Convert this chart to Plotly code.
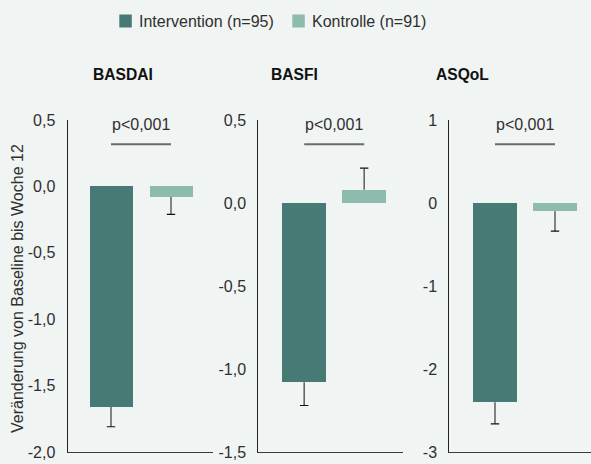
import plotly.graph_objects as go
from plotly.subplots import make_subplots

# Change from baseline to week 12 (mean with one-sided error)
groups = ["Intervention", "Kontrolle"]
legend_names = ["Intervention (n=95)", "Kontrolle (n=91)"]
panels = ["BASDAI", "BASFI", "ASQoL"]

basdai_values = [-1.66, -0.08]
basdai_errors = [0.15, 0.13]
basfi_values = [-1.08, 0.08]
basfi_errors = [0.14, 0.13]
asqol_values = [-2.40, -0.10]
asqol_errors = [0.26, 0.24]

p_labels = ["p<0,001", "p<0,001", "p<0,001"]

basdai_ticks = [0.5, 0.0, -0.5, -1.0, -1.5, -2.0]
basdai_ticktext = ["0,5", "0,0", "-0,5", "-1,0", "-1,5", "-2,0"]
basfi_ticks = [0.5, 0.0, -0.5, -1.0, -1.5]
basfi_ticktext = ["0,5", "0,0", "-0,5", "-1,0", "-1,5"]
asqol_ticks = [1, 0, -1, -2, -3]
asqol_ticktext = ["1", "0", "-1", "-2", "-3"]

y_title = "Veränderung von Baseline bis Woche 12"

values = [basdai_values, basfi_values, asqol_values]
errors = [basdai_errors, basfi_errors, asqol_errors]
ticks = [basdai_ticks, basfi_ticks, asqol_ticks]
ticktexts = [basdai_ticktext, basfi_ticktext, asqol_ticktext]
y_ranges = [[-2.0, 0.5], [-1.5, 0.5], [-3.0, 1.0]]

W, H = 591, 464
BG = "#f0f4f3"
C_INT = "#477a75"
C_CON = "#8dbbad"
TEXT = "#2f2f2f"
FONT = "Liberation Sans, Arial, sans-serif"

M_T, M_B = 120, 12
PLOT_H = H - M_T - M_B

def px_x(px):
    return px / W

def px_y(py):
    return (H - M_B - py) / PLOT_H

domains = [[67.5, 212.7], [258.3, 402.7], [449.3, 591.0]]
first_bar_offset = [43.5, 45.9, 45.7]   # px from left axis to first bar centre
bar_step = 60.0                          # px between bar centres

fig = make_subplots(rows=1, cols=3)

for i in range(3):
    col = i + 1
    vals = values[i]
    errs = errors[i]
    fig.add_trace(
        go.Bar(
            x=groups,
            y=vals,
            marker=dict(color=[C_INT, C_CON], line=dict(width=0)),
            width=0.73,
            showlegend=False,
            hoverinfo="skip",
        ),
        row=1, col=col,
    )
    # one-sided whiskers pointing away from zero
    for g, v, e in zip(groups, vals, errs):
        end = v - e if v < 0 else v + e
        fig.add_trace(
            go.Scatter(
                x=[g, g], y=[v, end], mode="lines",
                line=dict(color="#666666", width=1.6),
                showlegend=False, hoverinfo="skip",
            ),
            row=1, col=col,
        )
        fig.add_trace(
            go.Scatter(
                x=[g], y=[end], mode="markers",
                marker=dict(symbol="line-ew", size=6,
                            line=dict(color="#111111", width=1.2)),
                showlegend=False, hoverinfo="skip",
            ),
            row=1, col=col,
        )

    xa = "xaxis" if i == 0 else f"xaxis{col}"
    ya = "yaxis" if i == 0 else f"yaxis{col}"
    d0, d1 = domains[i]
    span = d1 - d0
    x_start = -first_bar_offset[i] / bar_step
    x_end = x_start + span / bar_step
    fig.layout[xa].update(
        domain=[px_x(d0), px_x(d1)],
        range=[x_start, x_end],
        showticklabels=False, ticks="",
        showline=True, linecolor="#3a3a3a", linewidth=1,
        showgrid=False, zeroline=False, fixedrange=True,
    )
    fig.layout[ya].update(
        range=y_ranges[i],
        tickvals=ticks[i], ticktext=ticktexts[i],
        ticks="", ticklabelstandoff=8,
        tickfont=dict(family=FONT, size=16, color=TEXT),
        showline=True, linecolor="#222222", linewidth=1,
        showgrid=False, zeroline=False, fixedrange=True,
    )

    # significance bracket between the two bars
    xr = "x" if i == 0 else f"x{col}"
    fig.add_shape(
        type="line", xref=xr, yref="paper",
        x0=0, x1=1, y0=px_y(144.3), y1=px_y(144.3),
        line=dict(color="#6b6b6b", width=2),
    )
    fig.add_annotation(
        xref=xr, yref="paper", x=0.5, y=px_y(125),
        text=p_labels[i], showarrow=False,
        font=dict(family=FONT, size=16, color=TEXT),
        xanchor="center", yanchor="middle",
    )

# panel titles
title_x = [122.5, 294.0, 462.5]
for name, tx in zip(panels, title_x):
    fig.add_annotation(
        xref="paper", yref="paper", x=px_x(tx), y=px_y(74),
        text=f"<b>{name}</b>", showarrow=False,
        font=dict(family=FONT, size=15.6, color="#111111"),
        xanchor="center", yanchor="middle",
    )

# y-axis title
fig.add_annotation(
    xref="paper", yref="paper", x=px_x(17), y=px_y(289),
    text=y_title, textangle=-90, showarrow=False,
    font=dict(family=FONT, size=16, color=TEXT),
    xanchor="center", yanchor="middle",
)

# legend
legend_sq = [119.3, 292.3]
legend_colors = [C_INT, C_CON]
for name, sx, c in zip(legend_names, legend_sq, legend_colors):
    fig.add_shape(
        type="rect", xref="paper", yref="paper",
        x0=px_x(sx), x1=px_x(sx + 12.5), y0=px_y(27.5), y1=px_y(14.5),
        fillcolor=c, line=dict(width=0),
    )
    fig.add_annotation(
        xref="paper", yref="paper", x=px_x(sx + 17.5), y=px_y(21),
        text=name, showarrow=False,
        font=dict(family=FONT, size=16, color=TEXT),
        xanchor="left", yanchor="middle",
    )

fig.update_layout(
    width=W, height=H,
    margin=dict(l=0, r=0, t=M_T, b=M_B, autoexpand=False),
    paper_bgcolor=BG, plot_bgcolor=BG,
    separators=",.",
    showlegend=False,
    bargap=0,
)

fig.write_html("out.html", config={"displayModeBar": False})
